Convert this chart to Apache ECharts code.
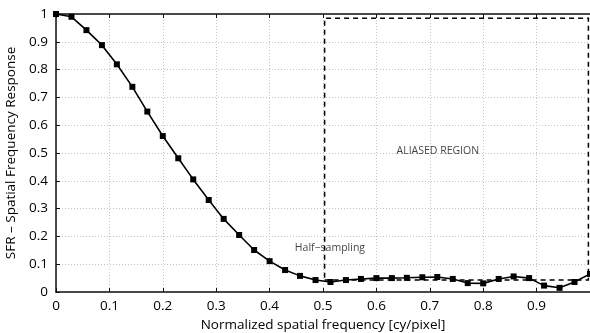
<!DOCTYPE html>
<html><head><meta charset="utf-8">
<script src="https://cdn.jsdelivr.net/npm/echarts@6/dist/echarts.min.js"></script>
<style>html,body{margin:0;padding:0;background:#fff}#c{width:590px;height:333px}</style>
</head><body><div id="c"></div>
<script>
const freq = [0,0.029,0.057,0.086,0.114,0.143,0.171,0.2,0.229,0.257,0.286,0.314,0.343,0.371,0.4,0.429,0.457,0.486,0.514,0.543,0.571,0.6,0.629,0.657,0.686,0.714,0.743,0.771,0.8,0.829,0.857,0.886,0.914,0.943,0.971,1];
const sfr = [1.0,0.99,0.942,0.888,0.819,0.738,0.649,0.561,0.481,0.405,0.331,0.263,0.205,0.151,0.111,0.079,0.058,0.043,0.036,0.043,0.047,0.05,0.05,0.051,0.053,0.054,0.047,0.032,0.031,0.047,0.056,0.05,0.023,0.015,0.036,0.065];
const xTicks = [0,0.1,0.2,0.3,0.4,0.5,0.6,0.7,0.8,0.9];
const yTicks = [0,0.1,0.2,0.3,0.4,0.5,0.6,0.7,0.8,0.9,1];
const aliasBox = {x0:0.503, y0:0.043, x1:0.997, y1:0.985};
const notes = [{text:'ALIASED REGION', x:0.715, y:0.507},{text:'Half\u2212sampling', x:0.513, y:0.158}];
const font = '"Open Sans", sans-serif';
const chart = echarts.init(document.getElementById('c'));
const fmt = v => { const r = Math.round(v*10)/10; return (r===0||r===1)?String(r):r.toFixed(1); };
chart.setOption({
  animation:false,
  grid:{left:56,right:0,top:14,bottom:41,containLabel:false,outerBoundsMode:'none'},
  xAxis:[{type:'value',min:0,max:1,interval:0.1,
    name:'Normalized spatial frequency [cy/pixel]',nameLocation:'middle',nameGap:26,
    nameTextStyle:{fontFamily:font,fontSize:13.5,color:'#000'},
    axisLine:{lineStyle:{color:'#111',width:1.5}},
    axisTick:{inside:true,length:4,lineStyle:{color:'#111'}},
    axisLabel:{fontFamily:font,fontSize:13.5,color:'#000',margin:7,formatter:v=>xTicks.includes(Math.round(v*10)/10)?fmt(v):''},
    splitLine:{show:true,lineStyle:{color:'#c4c4c4',type:[1,2],width:1}}},
    {type:'value',position:'top',min:0,max:1,interval:0.1,
    axisLine:{show:true,lineStyle:{color:'#111',width:1.5}},
    axisTick:{show:true,inside:true,length:4,lineStyle:{color:'#111'}},
    axisLabel:{show:false},splitLine:{show:false}}],
  yAxis:{type:'value',min:0,max:1,interval:0.1,
    name:'SFR \u2013 Spatial Frequency Response',nameLocation:'middle',nameGap:36,
    nameTextStyle:{fontFamily:font,fontSize:13.5,color:'#000'},
    axisLine:{show:true,lineStyle:{color:'#111',width:1.5}},
    axisTick:{show:true,inside:true,length:4,lineStyle:{color:'#111'}},
    axisLabel:{fontFamily:font,fontSize:13.5,color:'#000',margin:8,formatter:v=>yTicks.includes(Math.round(v*10)/10)?fmt(v):''},
    splitLine:{show:true,lineStyle:{color:'#c4c4c4',type:[1,2],width:1}}},
  series:[
    {type:'line',data:freq.map((f,i)=>[f,sfr[i]]),symbol:'rect',symbolSize:6,
     lineStyle:{color:'#000',width:1.6},itemStyle:{color:'#000'},z:5,
     markArea:{silent:true,itemStyle:{color:'rgba(0,0,0,0)',borderColor:'#000',borderWidth:1.5,borderType:[5,4]},
       data:[[{coord:[aliasBox.x0,aliasBox.y0]},{coord:[aliasBox.x1,aliasBox.y1]}]]}},
    {type:'scatter',data:notes.map(n=>({value:[n.x,n.y],label:{formatter:n.text}})),symbolSize:0,
     label:{show:true,position:'inside',fontFamily:font,fontSize:10.5,color:'#111'},z:6}
  ]
});
</script></body></html>
